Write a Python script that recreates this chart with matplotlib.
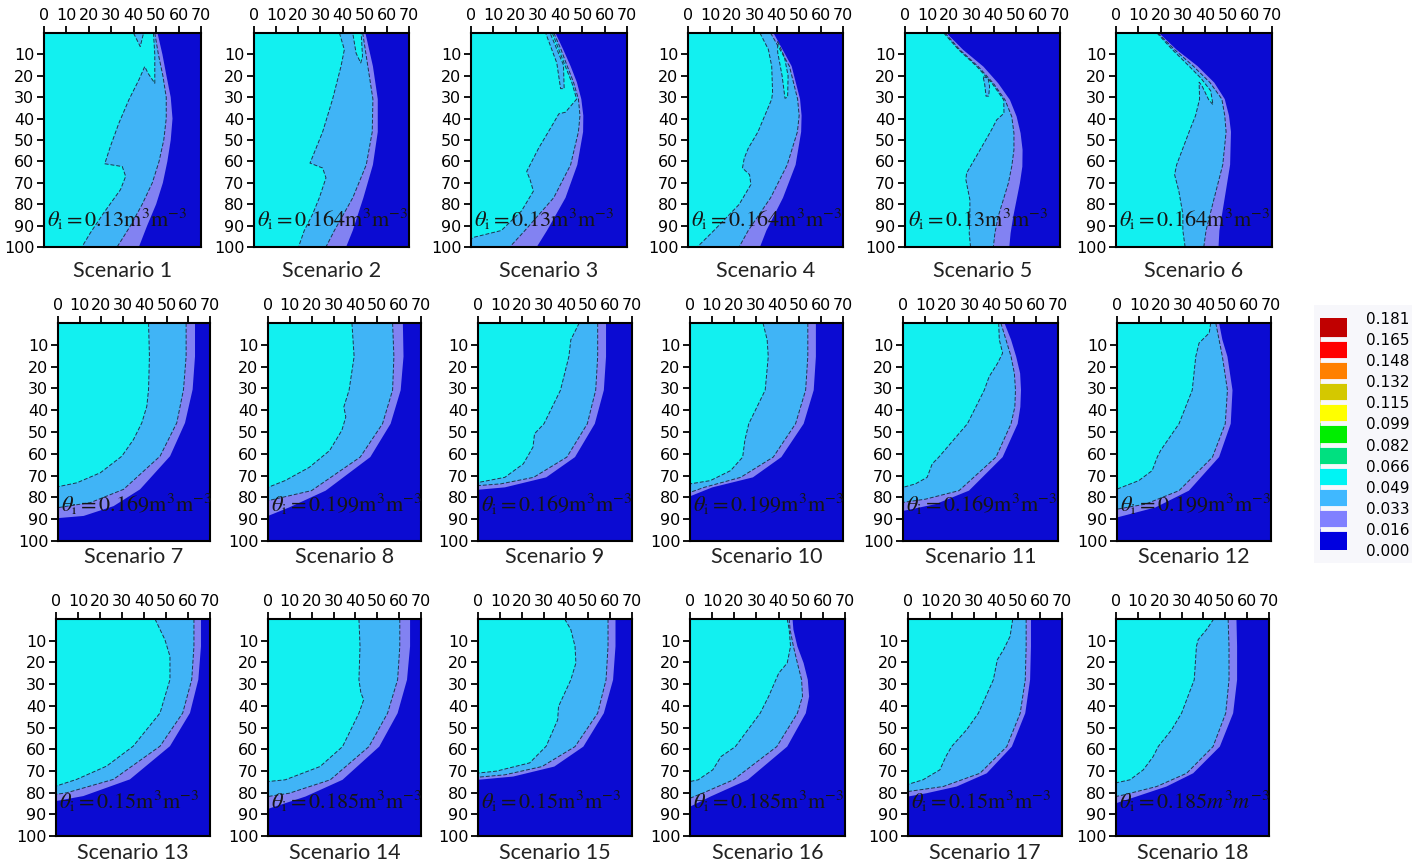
import matplotlib
matplotlib.use("Agg")
import matplotlib.pyplot as plt
from matplotlib.colors import ListedColormap, BoundaryNorm
from matplotlib.cm import ScalarMappable
from matplotlib.patches import Rectangle

plt.rcParams['font.family'] = 'DejaVu Sans'
plt.rcParams['mathtext.fontset'] = 'stix'

# legend: water content classes (m3 m-3)
levels = [0.000, 0.016, 0.033, 0.049, 0.066, 0.082, 0.099, 0.115, 0.132, 0.148, 0.165, 0.181]
legend_colors = ['#0000e0', '#8080ff', '#40b8ff', '#00f4f4', '#00e080', '#00ee00',
                 '#ffff00', '#d4c800', '#ff8000', '#ff0000', '#c00000']

theta_i = ['0.13', '0.164', '0.13', '0.164', '0.13', '0.164',
           '0.169', '0.199', '0.169', '0.199', '0.169', '0.199',
           '0.15', '0.185', '0.15', '0.185', '0.15', '0.185']

# contour fronts: (x cm, depth cm), from the top edge down
front_049 = {
    1: [(48.8, 0), (49.4, 10), (49.4, 23.5), (46.5, 19), (44.9, 15.7), (42.3, 21.9), (37.8, 31.3), (33.4, 42.1),
        (29.6, 53), (27.1, 61.1), (34.9, 62.4), (36.4, 67), (34.1, 73.2), (26.6, 84.1), (20.6, 93.5), (16.9, 100)],
    2: [(38.6, 0), (40.8, 7.8), (39.3, 15.5), (35.5, 30.9), (31, 46.2), (28, 53.9), (25.3, 60.8), (31, 63.1),
        (32.5, 67.7), (29.5, 77), (26.5, 84.6), (22.7, 92.3), (20.1, 100)],
    3: [(36.5, 0), (39.5, 8), (42.3, 15.5), (45.2, 23), (47.4, 30.9), (42.4, 37), (39.4, 37.8), (36.4, 43.2),
        (30.3, 53.9), (25, 64.7), (26.5, 68.5), (28, 73.9), (22.7, 83.1), (13.6, 92.3), (1.5, 95.4), (0, 96.2)],
    4: [(32.5, 0), (36.3, 7.7), (37.8, 15.5), (38.2, 27.8), (37.8, 30.9), (31.6, 46.2), (27.2, 53.9), (25.4, 58.5),
        (24.6, 63.1), (27.8, 66.2), (28.4, 70.8), (23.1, 80.1), (11.7, 92.3), (4.2, 100)],
    5: [(17.5, 0), (24.3, 7.9), (32.5, 15.7), (39.3, 23.5), (44.6, 31.3), (44.7, 37.5), (41.4, 40.6), (39.1, 45.2),
        (33.9, 54.6), (27.8, 65.5), (27.5, 68.6), (29.3, 77.9), (29.3, 85.7), (29, 93.5), (29.6, 100)],
    6: [(18.4, 0), (25.3, 7.8), (32.8, 15.5), (38, 21), (42.5, 27), (43.5, 33.5), (41.5, 31), (38.5, 24.5),
        (37.3, 23), (37.5, 30.9), (35.7, 38.6), (32.8, 46.2), (30, 53.9), (27.2, 61.6), (26.3, 66.2),
        (28.2, 73.9), (30, 84.6), (30, 92.3), (31, 100)],
    7: [(41.7, 0), (42.1, 15.3), (41.7, 30.5), (40.9, 38.2), (38.6, 45.8), (34.8, 53.4), (29.4, 61.1),
        (19.5, 68.7), (8.7, 73.3), (0, 75.1)],
    8: [(38.4, 0), (39.4, 15.4), (37.1, 30.8), (34.7, 38.5), (35.6, 43.1), (33.8, 49.2), (28.2, 58.5),
        (18.9, 66.2), (7.8, 72.3), (0, 75.4)],
    9: [(46, 0), (42.2, 7.7), (41.3, 15.4), (37.5, 30.8), (30, 46.2), (25.7, 50.8), (25, 56.9), (20.6, 64.6),
        (12.2, 70.8), (0.9, 73), (0, 73)],
    10: [(33.4, 0), (35.3, 7.7), (35.8, 15.4), (34.4, 30.8), (26.9, 46.2), (25.1, 53.8), (24.1, 61.5),
         (18.6, 67.7), (9.3, 72.3), (0, 73.8)],
    11: [(43.2, 0), (43.5, 7.7), (45, 13.8), (42.7, 18.5), (38.9, 24.6), (36.7, 30.8), (29.1, 46.2), (16.2, 61.5),
         (13.2, 64.6), (10.9, 70.8), (5.6, 73.8), (0, 75.4)],
    12: [(42.6, 0), (41.9, 4.6), (37.3, 9.2), (35.8, 15.4), (34.2, 30.8), (28.2, 46.2), (19.8, 58.5),
         (18.3, 61.5), (16, 67.7), (9.9, 72.3), (0, 76.2)],
    13: [(45, 0), (49.5, 9.5), (51.8, 17.2), (51.8, 27.9), (47.3, 43.3), (35.1, 58.6), (23, 67.8), (9.4, 73.9),
         (0, 77)],
    14: [(41.6, 0), (42.1, 12.6), (41.6, 28), (42.5, 34.1), (43.8, 37.2), (41.6, 43.4), (34.1, 58.8), (23.8, 68),
         (7.9, 74.1), (0, 74.9)],
    15: [(39.4, 0), (42.2, 4.9), (44.1, 12.6), (44.5, 20.3), (42.2, 28), (36.6, 40.3), (36.2, 46.5), (31, 58.6),
         (23.5, 66.3), (8.4, 70.1), (0, 71)],
    16: [(43.9, 0), (44.8, 4.9), (45.4, 12.6), (43.9, 20.3), (40.1, 24.9), (35.5, 35.7), (31.7, 43.4),
         (20.5, 58.8), (14, 63.4), (10.3, 69.5), (3.7, 74.1), (0, 74.9)],
    17: [(47.6, 0), (46.4, 8), (43.4, 14.2), (40.6, 18.8), (38.8, 28), (32, 43.4), (26.6, 51.1), (19.8, 58.8),
         (17.2, 63.4), (14.5, 69.5), (6.8, 74.1), (0, 76.2)],
    18: [(44.7, 0), (41.4, 4.9), (37.6, 9.5), (36.8, 12.6), (35.8, 28), (30, 43.4), (25.4, 51.1), (19.3, 58.8),
         (17, 63.4), (12.5, 69.5), (6.4, 74.1), (0, 75.5)],
}

front_033 = {
    1: [(49.4, 0), (51, 10), (53, 20), (54.5, 30), (54.5, 40), (53.4, 50), (51.3, 60), (48.3, 70), (43.8, 80),
        (38.6, 90), (32.6, 100)],
    2: [(49.1, 0), (51.4, 15.5), (53.7, 30.9), (53.4, 46.2), (50.7, 61.6), (44.6, 77), (36.3, 92.3), (32.5, 100)],
    3: [(37.2, 0), (40.5, 8), (43.2, 15.5), (46, 23), (48.2, 30.9), (48.9, 38.6), (48.2, 46.2), (44.7, 61.6),
        (37.1, 77), (24.2, 92.3), (17.4, 100)],
    4: [(37.3, 0), (45.8, 15.5), (49.5, 30.9), (50.2, 38.6), (49.4, 46.2), (44.8, 61.6), (37.3, 77), (27.2, 92.3),
        (23.1, 100)],
    5: [(18.1, 0), (24.8, 7.9), (33.1, 15.7), (39.9, 23.5), (45.2, 31.3), (48.2, 39), (49.2, 46.8), (49.2, 54.6),
        (48.2, 62.4), (46.7, 70.1), (44.4, 77.9), (42.1, 85.7), (40.6, 93.5), (39.9, 100)],
    6: [(18.8, 0), (26.3, 7.8), (34.7, 15.5), (42.2, 23.2), (47.5, 30.9), (48.8, 38.6), (49.4, 46.2),
        (47.9, 61.6), (44.1, 77), (40.4, 92.3), (39.4, 100)],
    7: [(59, 0), (59, 15.3), (57.8, 30.5), (54.7, 45.8), (47, 61.1), (30.2, 76.3), (14.9, 82.4), (0, 84.7)],
    8: [(57, 0), (57.6, 15.4), (57, 30.8), (52.4, 46.2), (42.2, 61.5), (19.9, 76.9), (0, 81.5)],
    9: [(54.4, 0), (54.4, 15.4), (53.5, 30.8), (49.7, 46.2), (40.4, 61.5), (25.3, 70.8), (10.3, 73.8), (0, 74.6)],
    10: [(53.9, 0), (53.9, 15.4), (52.9, 30.8), (48.3, 46.2), (38.1, 61.5), (23.2, 70.8), (6.5, 75.4), (0, 77.7)],
    11: [(44.2, 0), (46.5, 7.7), (48.8, 15.4), (50.3, 23.1), (50.8, 30.8), (50.5, 38.5), (48.8, 46.2), (42, 61.5),
         (25.3, 76.9), (10.2, 80.8), (0, 82.3)],
    12: [(44.9, 0), (47.9, 15.4), (50.2, 30.8), (49.2, 46.2), (43.4, 61.5), (28.2, 76.9), (12.9, 83.1), (0, 85.4)],
    13: [(62.7, 0), (62.7, 12.6), (61.7, 27.9), (57.6, 43.3), (47.3, 58.6), (26.1, 73.9), (4.8, 80.1), (0, 80.8)],
    14: [(60.3, 0), (60.3, 12.6), (59.3, 28), (54.7, 43.4), (46.2, 58.8), (28.5, 74.1), (9.7, 80.3), (0, 81.8)],
    15: [(59.1, 0), (59.1, 12.6), (58.2, 28), (54.4, 43.4), (44.1, 58.8), (29.1, 68), (12.2, 71.8), (0, 72.9)],
    16: [(44.8, 0), (45.2, 4.9), (46.7, 12.6), (48.5, 20.3), (50.4, 28), (50.8, 35.7), (48.5, 43.4), (39.2, 58.8),
         (19.6, 74.1), (5.6, 80.3), (0, 82.6)],
    17: [(53.7, 0), (53.7, 12.6), (53.3, 28), (51, 43.4), (44.9, 58.8), (32.7, 71.1), (16, 77.2), (0, 79.5)],
    18: [(51.3, 0), (51.7, 12.6), (51.7, 28), (50.2, 43.4), (44.4, 58.8), (32.3, 71.1), (18.6, 77.2), (3.3, 81.1),
         (0, 81.8)],
}

front_016 = {
    1: [(50.6, 0), (52.8, 10), (54.6, 20), (56.5, 30), (57.3, 40), (56.5, 50), (55, 60), (53, 70), (50, 80),
        (46, 90), (42.3, 100)],
    2: [(50.3, 0), (53.7, 15.5), (55.9, 30.9), (55.9, 46.2), (53.7, 61.6), (49.4, 77), (44.6, 92.3), (41.6, 100)],
    3: [(37.9, 0), (41.5, 8), (44.7, 15.5), (47.5, 23), (49.5, 30.9), (50.4, 38.6), (50.3, 46.2), (47.7, 61.6),
        (42.4, 77), (34.1, 92.3), (29.5, 100)],
    4: [(38.6, 0), (46.8, 15.5), (50.6, 30.9), (51.3, 38.6), (51.1, 46.2), (48.6, 61.6), (42.9, 77), (35.4, 92.3),
        (32.5, 100)],
    5: [(18.7, 0), (26.3, 7.9), (35.4, 15.7), (42.1, 23.5), (47.4, 31.3), (50.4, 39), (52.2, 46.8), (53.1, 54.6),
        (53, 62.4), (51.9, 70.1), (50.4, 77.9), (48.9, 85.7), (47.7, 93.5), (47.1, 100)],
    6: [(19.3, 0), (27.2, 7.8), (36.6, 15.5), (44.1, 23.2), (48.8, 30.9), (50.7, 38.6), (51.6, 46.2),
        (51.2, 61.6), (48.8, 77), (46.4, 92.3), (46, 100)],
    7: [(63.1, 0), (63.1, 15.3), (62, 30.5), (58.5, 45.8), (51.6, 61.1), (37.8, 76.3), (25.6, 84), (11.8, 88.5),
        (0, 89.5)],
    8: [(61.7, 0), (62, 15.4), (60.7, 30.8), (56.1, 46.2), (46.8, 61.5), (26.4, 76.9), (9.7, 84.6), (0, 88.5)],
    9: [(58.2, 0), (58.2, 15.4), (57.2, 30.8), (53.1, 46.2), (44.1, 61.5), (31, 70.8), (12.2, 75.4), (0, 76.5)],
    10: [(57.6, 0), (57.6, 15.4), (56.6, 30.8), (52, 46.2), (41.8, 61.5), (28.8, 70.8), (10.2, 75.4), (0, 79.5)],
    11: [(45.8, 0), (48.8, 7.7), (51.1, 15.4), (52.9, 23.1), (53.3, 30.8), (53, 38.5), (51.8, 46.2), (45, 61.5),
         (29.8, 76.9), (14.7, 83.1), (0, 86.2)],
    12: [(46.4, 0), (47.9, 7.7), (50.2, 15.4), (52.5, 30.8), (51.7, 46.2), (46.4, 61.5), (32.7, 76.9),
         (17.5, 84.6), (0, 89.2)],
    13: [(65.9, 0), (65.9, 12.6), (64.7, 27.9), (60.9, 43.3), (51.8, 58.6), (33.6, 73.9), (12.4, 81.6), (0, 83.9)],
    14: [(65, 0), (65, 12.6), (63.6, 28), (59.3, 43.4), (50.9, 58.8), (34.1, 74.1), (17.2, 81.8), (0, 87.5)],
    15: [(62.5, 0), (62.5, 12.6), (61.4, 28), (57.2, 43.4), (47.9, 58.8), (34.7, 68), (16, 72.6), (0, 74.1)],
    16: [(46.3, 0), (46.7, 4.9), (48.5, 12.6), (51.3, 20.3), (53.2, 28), (53.8, 35.7), (52.3, 43.4), (43.9, 58.8),
         (26.1, 74.1), (9.3, 81.8), (0, 86.5)],
    17: [(55.9, 0), (55.9, 12.6), (55.5, 28), (53.3, 43.4), (47.2, 58.8), (35.8, 71.1), (22.1, 77.2), (8.4, 80.3),
         (0, 81.8)],
    18: [(55.1, 0), (55.4, 12.6), (55.4, 28), (53.6, 43.4), (47.5, 58.8), (35.3, 71.1), (23.1, 77.2), (9.4, 81.8),
         (0, 84.9)],
}

# small closed patches: 0.033 inside the 0.049 zone, 0.049 inside the 0.033 zone
patch_033 = {
    1: [(39.9, 0), (44.4, 0), (42.9, 6.3)],
    3: [(33.5, 0), (35.5, 0), (41.5, 15), (41.8, 26), (40.2, 26), (38.5, 14)],
    5: [(35.3, 20.5), (37.5, 21), (38.2, 25), (37.8, 29.5), (36.6, 29.5), (36, 24)],
}
patch_049 = {
    2: [(44.6, 0), (48.4, 0), (49, 10.9), (48.2, 14), (46.1, 9.4)],
    4: [(40.5, 4), (43.5, 11), (45.2, 20), (45, 30), (43.8, 30.5), (42.5, 20), (40.5, 9)],
}

c_dry = '#0b0bd2'
c_016 = '#8282f2'
c_033 = '#40b4f6'
c_049 = '#12f0f0'
line_c = '#1c3550'
legend_bg = '#f7f7fb'

fig = plt.figure(figsize=(14.23, 8.67), dpi=100)
W, H = 1423.0, 867.0

row_y = [(33, 247), (323, 541), (619, 836)]
col_x = [
    [(44, 201), (254, 409), (471, 627), (688, 843), (905, 1060), (1116, 1272)],
    [(58, 210), (268, 421), (478, 632), (690, 843), (903, 1058), (1117, 1271)],
    [(56, 210), (268, 421), (478, 632), (690, 845), (908, 1062), (1116, 1269)],
]
label_y = [271, 557, 853]
text_depth = [87, 83, 84]


def region(pts):
    xs = [0] + [p[0] for p in pts] + [0]
    ys = [0] + [p[1] for p in pts] + [pts[-1][1]]
    return xs, ys


for r in range(3):
    for c in range(6):
        n = r * 6 + c + 1
        x0, x1 = col_x[r][c]
        y0, y1 = row_y[r]
        ax = fig.add_axes([x0 / W, 1 - y1 / H, (x1 - x0) / W, (y1 - y0) / H])
        ax.set_facecolor(c_dry)

        for front, col in [(front_016, c_016), (front_033, c_033), (front_049, c_049)]:
            xs, ys = region(front[n])
            ax.fill(xs, ys, color=col, lw=0)
        if n in patch_033:
            ax.fill([p[0] for p in patch_033[n]], [p[1] for p in patch_033[n]], color=c_033, lw=0)
        if n in patch_049:
            ax.fill([p[0] for p in patch_049[n]], [p[1] for p in patch_049[n]], color=c_049, lw=0)

        for front in [front_049, front_033]:
            ax.plot([p[0] for p in front[n]], [p[1] for p in front[n]], color=line_c, lw=0.7, ls=(0, (4, 2)))
        for pd in [patch_033, patch_049]:
            if n in pd:
                pts = pd[n] + [pd[n][0]]
                ax.plot([p[0] for p in pts], [p[1] for p in pts], color=line_c, lw=0.7, ls=(0, (4, 2)))

        ax.set_xlim(0, 70)
        ax.set_ylim(100, 0)
        ax.xaxis.tick_top()
        ax.set_xticks(range(0, 71, 10))
        ax.set_yticks(range(10, 101, 10))
        ax.tick_params(direction='out', length=5, width=1.3, labelsize=11.5, pad=2, colors='black')
        for s in ax.spines.values():
            s.set_linewidth(1.5)
            s.set_color('black')

        if n == 18:
            lab = r'$\theta_\mathrm{i} = 0.185m^3m^{-3}$'
        else:
            lab = r'$\theta_\mathrm{i} = \mathrm{' + theta_i[n - 1] + r'm^3m^{-3}}$'
        ax.text(1.5, text_depth[r], lab, fontsize=16, ha='left', va='center', color='#151515')

        fig.text((x0 + x1) / 2 / W, 1 - label_y[r] / H, 'Scenario %d' % n, fontsize=15.5,
                 family='Lato', ha='center', va='center', color='#222222')

# legend box
fig.patches.append(Rectangle((1314 / W, 1 - 563 / H), 98 / W, 258 / H, transform=fig.transFigure,
                             facecolor=legend_bg, edgecolor='none', zorder=-10))
cax = fig.add_axes([1320 / W, 1 - 550 / H, 27 / W, 232 / H])
cmap = ListedColormap(legend_colors)
norm = BoundaryNorm(levels, cmap.N)
cb = fig.colorbar(ScalarMappable(norm=norm, cmap=cmap), cax=cax, ticks=levels, drawedges=True,
                  spacing='uniform')
cb.outline.set_visible(False)
cb.dividers.set_color(legend_bg)
cb.dividers.set_linewidth(3.5)
cb.ax.set_yticklabels(['%.3f' % v for v in levels])
cb.ax.tick_params(length=0, pad=14, labelsize=11)

fig.savefig('out.png', dpi=100)
